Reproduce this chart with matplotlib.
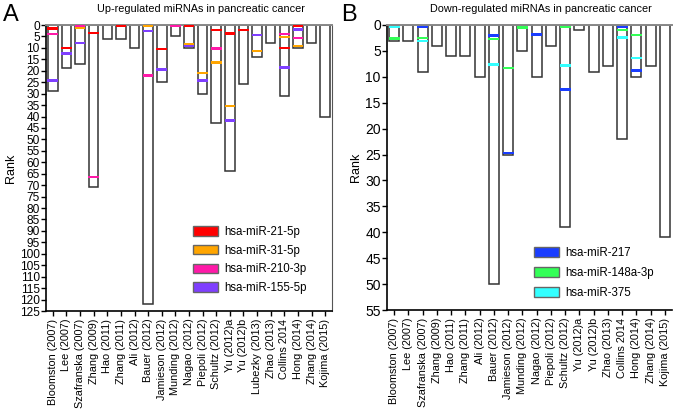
import matplotlib

matplotlib.use("Agg")

import matplotlib.pyplot as plt
from matplotlib.patches import Patch

plt.rcParams["font.family"] = ["Liberation Sans", "DejaVu Sans"]

# ---- data: panel A (up-regulated) ----
studies_up = [
    "Bloomston (2007)", "Lee (2007)", "Szafranska (2007)", "Zhang (2009)",
    "Hao (2011)", "Zhang (2011)", "Ali (2012)", "Bauer (2012)",
    "Jamieson (2012)", "Munding (2012)", "Nagao (2012)", "Piepoli (2012)",
    "Schultz (2012)", "Yu (2012)a", "Yu (2012)b", "Lubezky (2013)",
    "Zhao (2013)", "Collins 2014", "Hong (2014)", "Zhang (2014)", "Kojima (2015)",
]
up_total = [29, 19, 17, 71, 6, 6, 10, 122, 25, 5, 10, 30, 43, 64, 26, 14, 8, 31, 10, 8, 40]
N = None
up_mir21 = [1.5, 10, N, 3.4, N, 0.5, N, N, 10.5, N, 0.5, N, 2.2, 3.7, 2.3, N, N, 10.1, 0.5, N, N]
up_mir31 = [N, N, 1.3, N, N, N, N, 0.5, N, N, 8.2, 21, 16.4, 35.3, N, 11.3, N, 5.3, 9.3, N, N]
up_mir210 = [3.9, N, 0.4, 66.4, N, N, N, 22.1, N, 0.5, N, N, 10.3, N, N, N, N, 4, 5.6, N, N]
up_mir155 = [24.3, 12.4, 7.8, N, N, N, N, 2.6, 19.5, N, 9.3, 24.3, N, 41.7, N, 4.5, N, 18.6, 2, N, N]

# ---- data: panel B (down-regulated) ----
studies_down = [
    "Bloomston (2007)", "Lee (2007)", "Szafranska (2007)", "Zhang (2009)",
    "Hao (2011)", "Zhang (2011)", "Ali (2012)", "Bauer (2012)",
    "Jamieson (2012)", "Munding (2012)", "Nagao (2012)", "Piepoli (2012)",
    "Schultz (2012)", "Yu (2012)a", "Yu (2012)b", "Zhao (2013)",
    "Collins 2014", "Hong (2014)", "Zhang (2014)", "Kojima (2015)",
]
down_total = [3, 3, 9, 4, 6, 6, 10, 50, 25, 5, 10, 4, 39, 1, 9, 8, 22, 10, 8, 41]
down_mir217 = [N, N, 0.35, N, N, N, N, 2.05, 24.7, N, 1.85, N, 12.5, N, N, N, 0.35, 8.75, N, N]
down_mir148a = [2.6, N, 2.5, N, N, N, N, 2.7, 8.3, 0.45, N, N, 0.35, N, N, N, 1.0, 1.9, N, N]
down_mir375 = [0.35, N, 3.1, N, N, N, N, 7.65, N, N, N, N, 7.8, N, N, N, 2.45, 6.35, N, N]


def draw_panel(ax, studies, totals, marks, ymax, mark_h, title, right_spine,
               ytick_size, legend_anchor, legend_rowgap):
    x = list(range(len(studies)))
    ax.bar(x, totals, width=0.7, color="white", edgecolor="#333333",
           linewidth=1.1, zorder=2)
    for values, color, label in marks:
        for xi, v in zip(x, values):
            if v is None:
                continue
            ax.bar(xi, mark_h, bottom=v - mark_h / 2, width=0.78, color=color,
                   linewidth=0, zorder=3)
    ax.set_xlim(-0.5, len(studies) - 0.5)
    ax.set_ylim(ymax, 0)
    ax.set_yticks(range(0, ymax + 1, 5))
    ax.set_xticks(x)
    ax.set_xticklabels(studies, rotation=90, fontsize=7.8)
    ax.tick_params(axis="y", labelsize=ytick_size, length=3.5, width=1, pad=1)
    ax.tick_params(axis="x", length=3.5, width=1, pad=2)
    ax.set_ylabel("Rank", fontsize=9, labelpad=2)
    ax.set_title(title, fontsize=7.8, pad=9, x=0.54)
    for side in ("left", "bottom"):
        ax.spines[side].set_linewidth(1.2)
    ax.spines["top"].set_color("#888888")
    ax.spines["top"].set_linewidth(1.4)
    ax.spines["right"].set_visible(right_spine)
    ax.spines["right"].set_color("#555555")
    handles = [Patch(facecolor=c, edgecolor="#666666", label=l) for _, c, l in marks]
    ax.legend(handles=handles, loc="upper left", bbox_to_anchor=legend_anchor,
              frameon=False, fontsize=8.3, handlelength=2.2, handleheight=0.9,
              labelspacing=legend_rowgap, handletextpad=0.5, borderpad=0,
              borderaxespad=0)


fig = plt.figure(figsize=(6.75, 4.12), dpi=100)
ax_a = fig.add_axes([46 / 675, 1 - 311 / 412, 286 / 675, 286 / 412])
ax_b = fig.add_axes([387 / 675, 1 - 310 / 412, 285 / 675, 285 / 412])

draw_panel(
    ax_a, studies_up, up_total,
    [(up_mir21, "#ff0000", "hsa-miR-21-5p"),
     (up_mir31, "#ffa500", "hsa-miR-31-5p"),
     (up_mir210, "#ff19a8", "hsa-miR-210-3p"),
     (up_mir155, "#7f3fff", "hsa-miR-155-5p")],
    125, 1.0, "Up-regulated miRNAs in pancreatic cancer", True,
    8.6, ((193 - 46) / 286, (311 - 226) / 286), 0.58,
)
draw_panel(
    ax_b, studies_down, down_total,
    [(down_mir217, "#1a3dff", "hsa-miR-217"),
     (down_mir148a, "#33ff57", "hsa-miR-148a-3p"),
     (down_mir375, "#33ffff", "hsa-miR-375")],
    55, 0.5, "Down-regulated miRNAs in pancreatic cancer", False,
    10, ((534 - 387) / 285, (310 - 247) / 285), 0.7,
)

fig.text(0.005, 0.99, "A", fontsize=17, va="top", ha="left")
fig.text(0.505, 0.99, "B", fontsize=17, va="top", ha="left")

fig.savefig("out.png", dpi=100)
